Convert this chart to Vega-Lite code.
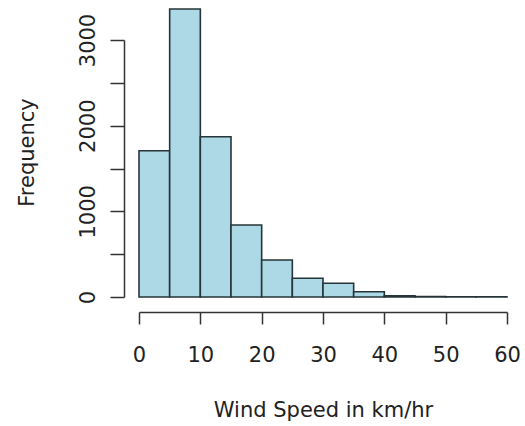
{
  "$schema": "https://vega.github.io/schema/vega-lite/v6.json",
  "width": 368,
  "height": 257,
  "autosize": {"type": "none"},
  "padding": {"left": 139, "top": 40, "right": 18, "bottom": 129},
  "background": "white",
  "config": {
    "view": {"stroke": null},
    "font": "DejaVu Sans",
    "axis": {
      "grid": false,
      "domainColor": "#333333",
      "domainWidth": 1.5,
      "tickColor": "#333333",
      "tickWidth": 1.5,
      "labelColor": "#222222",
      "titleColor": "#222222",
      "labelFont": "DejaVu Sans",
      "titleFont": "DejaVu Sans",
      "labelFontSize": 21,
      "titleFontSize": 21,
      "titleFontWeight": "normal"
    }
  },
  "data": {
    "values": [
      {"bin_start": 0, "bin_end": 5, "count": 1707},
      {"bin_start": 5, "bin_end": 10, "count": 3362},
      {"bin_start": 10, "bin_end": 15, "count": 1871},
      {"bin_start": 15, "bin_end": 20, "count": 840},
      {"bin_start": 20, "bin_end": 25, "count": 432},
      {"bin_start": 25, "bin_end": 30, "count": 218},
      {"bin_start": 30, "bin_end": 35, "count": 160},
      {"bin_start": 35, "bin_end": 40, "count": 62},
      {"bin_start": 40, "bin_end": 45, "count": 15},
      {"bin_start": 45, "bin_end": 50, "count": 4},
      {"bin_start": 50, "bin_end": 55, "count": 2},
      {"bin_start": 55, "bin_end": 60, "count": 1}
    ]
  },
  "mark": {"type": "bar", "fill": "#ADD8E6", "stroke": "#263539", "strokeWidth": 1.6, "clip": false},
  "encoding": {
    "x": {
      "field": "bin_start",
      "type": "quantitative",
      "scale": {"domain": [0, 60], "nice": false, "zero": false},
      "axis": {
        "title": "Wind Speed in km/hr",
        "values": [0, 10, 20, 30, 40, 50, 60],
        "offset": 15,
        "tickSize": 12,
        "labelPadding": 20,
        "titlePadding": 34,
        "labelFlush": false,
        "labelOverlap": false
      }
    },
    "x2": {"field": "bin_end"},
    "y": {
      "field": "count",
      "type": "quantitative",
      "scale": {"domain": [0, 3000], "nice": false},
      "axis": {
        "title": "Frequency",
        "values": [0, 500, 1000, 1500, 2000, 2500, 3000],
        "labelExpr": "datum.value % 1000 == 0 ? datum.label : ''",
        "format": "d",
        "offset": 15,
        "tickSize": 14,
        "labelAngle": -90,
        "labelAlign": "center",
        "labelBaseline": "bottom",
        "labelPadding": 12,
        "labelFlush": false,
        "labelOverlap": false,
        "titlePadding": 40,
        "titleY": 112
      }
    },
    "y2": {"datum": 0}
  }
}
